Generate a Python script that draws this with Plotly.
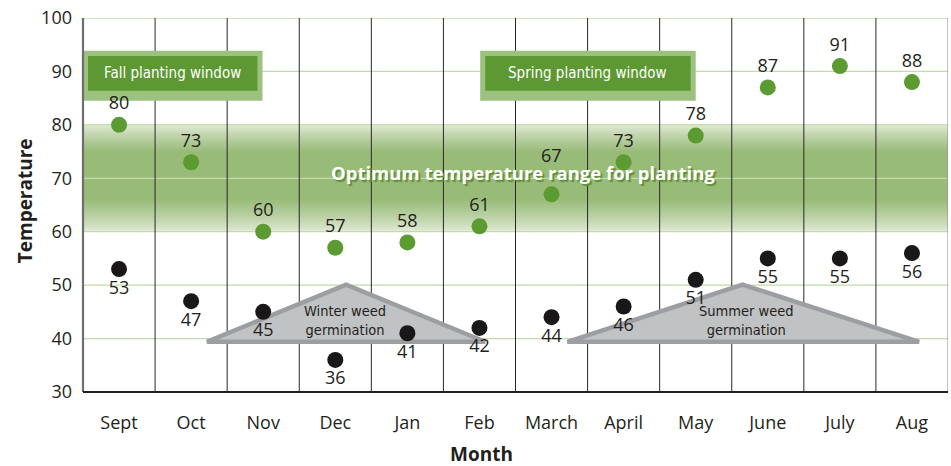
import plotly.graph_objects as go

months = ["Sept", "Oct", "Nov", "Dec", "Jan", "Feb", "March", "April", "May", "June", "July", "Aug"]
high_temps = [80, 73, 60, 57, 58, 61, 67, 73, 78, 87, 91, 88]
low_temps = [53, 47, 45, 36, 41, 42, 44, 46, 51, 55, 55, 56]
y_ticks = [30, 40, 50, 60, 70, 80, 90, 100]
optimum_range = [60, 80]

x_idx = list(range(len(months)))
FONT = "Open Sans, Noto Sans, DejaVu Sans, sans-serif"
COND = "Liberation Sans Narrow, DejaVu Sans Condensed, Roboto, sans-serif"
TXT = "#231f20"

# the March label sits higher, clear of the band caption
raised_label = months.index("March")
high_text = ["" if i == raised_label else str(v) for i, v in enumerate(high_temps)]

fig = go.Figure()

fig.add_trace(go.Scatter(
    x=x_idx, y=high_temps, mode="markers+text",
    marker=dict(size=16, color="#5c9a32"),
    text=high_text, textposition="top center",
    textfont=dict(family=FONT, size=18, color=TXT),
    cliponaxis=False, hoverinfo="skip", showlegend=False))

fig.add_trace(go.Scatter(
    x=x_idx, y=low_temps, mode="markers+text",
    marker=dict(size=16, color="#1a1718"),
    text=[str(v) for v in low_temps], textposition="bottom center",
    textfont=dict(family=FONT, size=18, color=TXT),
    cliponaxis=False, hoverinfo="skip", showlegend=False))

shapes = []


def mix(c1, c2, t):
    a = [int(c1[i:i + 2], 16) for i in (1, 3, 5)]
    b = [int(c2[i:i + 2], 16) for i in (1, 3, 5)]
    return "rgb(%d,%d,%d)" % tuple(round(a[k] + (b[k] - a[k]) * t) for k in range(3))


# Optimum band: overlapping rects toward the middle -> smooth gradient, no seams
light, green = "#e2ebd8", "#98bb78"
lo, hi = optimum_range
mid = (lo + hi) / 2
shapes.append(dict(type="rect", xref="x", yref="y", x0=-0.5, x1=11.5, y0=lo, y1=hi,
                   fillcolor=green, line=dict(width=0), layer="below"))
n = 24
top_fade, bot_fade = 5.0, 6.0
for i in range(n):
    t = i / (n - 1)
    shapes.append(dict(type="rect", xref="x", yref="y", x0=-0.5, x1=11.5,
                       y0=mid, y1=hi - t * top_fade,
                       fillcolor=mix(light, green, t ** 0.8), line=dict(width=0), layer="below"))
    shapes.append(dict(type="rect", xref="x", yref="y", x0=-0.5, x1=11.5,
                       y0=lo + t * bot_fade, y1=mid,
                       fillcolor=mix(light, green, t ** 0.8), line=dict(width=0), layer="below"))

# horizontal grid lines
for v in y_ticks[1:]:
    shapes.append(dict(type="line", xref="x", yref="y", x0=-0.5, x1=11.5, y0=v, y1=v,
                       line=dict(color="#c2dba8", width=1.3), layer="below"))

# vertical separators
for k in range(len(months) - 1):
    shapes.append(dict(type="line", xref="x", yref="y", x0=k + 0.5, x1=k + 0.5, y0=30, y1=100,
                       line=dict(color="#2b2728", width=1), layer="below"))
shapes.append(dict(type="line", xref="x", yref="y", x0=11.5, x1=11.5, y0=30, y1=100,
                   line=dict(color="#8a8b8d", width=1), layer="below"))


# weed germination triangles
def tri(xl, xa, xr, yb, ya):
    return dict(type="path", xref="x", yref="y",
                path=f"M {xl},{yb} L {xa},{ya} L {xr},{yb} Z",
                fillcolor="#c1c2c4", line=dict(color="#9d9ea1", width=4.5), layer="below")


shapes.append(tri(1.22, 3.15, 5.08, 39.4, 50.1))
shapes.append(tri(6.22, 8.65, 11.1, 39.4, 50.1))


# planting window boxes
def box(x0, x1):
    return [
        dict(type="rect", xref="x", yref="y", x0=x0, x1=x1, y0=84.5, y1=93.85,
             fillcolor="#9dc17e", line=dict(width=0), layer="below"),
        dict(type="rect", xref="x", yref="y", x0=x0 + 0.07, x1=x1 - 0.07, y0=86.4, y1=92.9,
             fillcolor="#5d9832", line=dict(width=0), layer="below"),
    ]


shapes += box(-0.5, 1.99)
shapes += box(5.01, 8.0)

# axis lines
shapes.append(dict(type="line", xref="paper", yref="y", x0=0, x1=0, y0=30, y1=100,
                   line=dict(color="#6d6e71", width=2.2), layer="above"))
shapes.append(dict(type="line", xref="x", yref="paper", x0=-0.5, x1=11.5, y0=0, y1=0,
                   line=dict(color="#231f20", width=2), layer="above"))

annotations = [
    dict(text=str(high_temps[raised_label]), x=raised_label, y=high_temps[raised_label],
         xref="x", yref="y", yshift=39, showarrow=False,
         font=dict(family=FONT, size=18, color=TXT)),
    dict(text="Fall planting window", x=0.745, y=89.65, xref="x", yref="y", showarrow=False,
         font=dict(family=COND, size=15, color="white")),
    dict(text="Spring planting window", x=6.505, y=89.65, xref="x", yref="y", showarrow=False,
         font=dict(family=COND, size=15, color="white")),
    dict(text="<b>Optimum temperature range for planting</b>", x=5.61, y=71.0, xref="x", yref="y",
         showarrow=False,
         font=dict(family=FONT, size=18.5, color="white", shadow="2px 2px 1px #5f8f3c")),
    dict(text="Winter weed<br>germination", x=3.13, y=43.3, xref="x", yref="y", showarrow=False,
         font=dict(family=COND, size=14.5, color=TXT)),
    dict(text="Summer weed<br>germination", x=8.7, y=43.3, xref="x", yref="y", showarrow=False,
         font=dict(family=COND, size=14.5, color=TXT)),
    dict(text="<b>Temperature</b>", textangle=-90, x=0, y=0.51, xref="paper", yref="paper",
         xanchor="center", yanchor="middle",
         xshift=-58, showarrow=False, font=dict(family=FONT, size=19, color=TXT)),
    dict(text="<b>Month</b>", x=5.03, y=0, xref="x", yref="paper", yshift=-62,
         xanchor="center", yanchor="middle",
         showarrow=False, font=dict(family=FONT, size=19, color=TXT)),
]

fig.update_layout(
    width=951, height=466,
    margin=dict(l=83, r=3, t=18, b=74),
    paper_bgcolor="white", plot_bgcolor="white",
    shapes=shapes, annotations=annotations,
    xaxis=dict(range=[-0.5, 11.5], tickvals=x_idx, ticktext=months, showgrid=False,
               zeroline=False, showline=False, ticks="", ticklabelstandoff=18,
               tickfont=dict(family=FONT, size=18, color=TXT), fixedrange=True),
    yaxis=dict(range=[30, 100], tickvals=y_ticks, showgrid=False, zeroline=False,
               showline=False, ticks="", ticklabelstandoff=10,
               tickfont=dict(family=FONT, size=18, color=TXT), fixedrange=True),
)

fig.write_html(
    "out.html",
    config={"displayModeBar": False},
    post_script="document.body.style.margin='0';document.body.style.overflow='hidden';",
)
